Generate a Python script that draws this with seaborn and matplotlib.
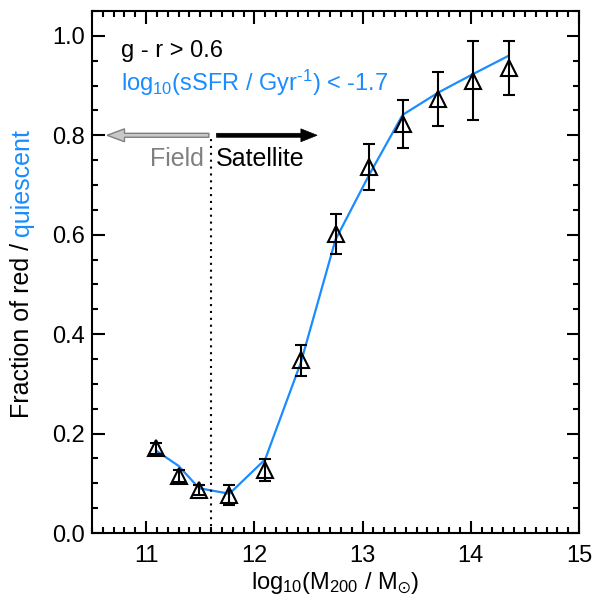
import matplotlib
matplotlib.use("Agg")
import matplotlib.pyplot as plt
import seaborn as sns
import pandas as pd
from matplotlib.patches import FancyArrow
from matplotlib.ticker import MultipleLocator

# Halo-mass bins (log10 M200 / Msun)
log_m200 = [11.09, 11.30, 11.49, 11.77, 12.10, 12.43, 12.75, 13.06, 13.37, 13.70, 14.02, 14.35]
# Red fraction (g - r > 0.6) with 1-sigma errors
red_frac = [0.170, 0.114, 0.087, 0.077, 0.126, 0.347, 0.602, 0.736, 0.822, 0.873, 0.910, 0.936]
red_err = [0.012, 0.012, 0.010, 0.020, 0.022, 0.032, 0.040, 0.047, 0.048, 0.054, 0.079, 0.054]
# Quiescent fraction (log10 sSFR < -1.7)
quiescent_frac = [0.166, 0.135, 0.090, 0.079, 0.148, 0.343, 0.590, 0.720, 0.841, 0.886, 0.923, 0.960]

field_limit = 11.6
x_ticks = [11, 12, 13, 14, 15]
y_ticks = [0.0, 0.2, 0.4, 0.6, 0.8, 1.0]

BLUE = "#1A8CFF"

sns.set_theme(style="ticks")
plt.rcParams["font.family"] = ["Liberation Sans", "DejaVu Sans"]
plt.rcParams["mathtext.default"] = "regular"
plt.rcParams["text.color"] = "black"
plt.rcParams["axes.labelcolor"] = "black"
plt.rcParams["xtick.color"] = "black"
plt.rcParams["ytick.color"] = "black"

df = pd.DataFrame({"m200": log_m200, "red": red_frac, "err": red_err, "q": quiescent_frac})

fig = plt.figure(figsize=(6.02, 5.98), dpi=100)
ax = fig.add_axes([92 / 602, 1 - 533 / 598, (579 - 92) / 602, (533 - 11) / 598])

sns.lineplot(data=df, x="m200", y="q", ax=ax, color=BLUE, lw=1.6,
             estimator=None, sort=False, zorder=2)
ax.errorbar(df["m200"], df["red"], yerr=df["err"], fmt="^", ms=11, mfc="none",
            mec="black", mew=1.5, ecolor="black", elinewidth=1.5, capsize=4,
            capthick=1.5, zorder=3)

# field / satellite divide
ax.plot([field_limit, field_limit], [0, 0.8], ls=(0, (1, 2.3)), color="black", lw=1.5)
ax.add_patch(FancyArrow(field_limit - 0.02, 0.8, -0.94, 0, width=0.008,
                        head_width=0.026, head_length=0.16,
                        length_includes_head=True, fc="#C8C8C8", ec="#808080", lw=1.0))
ax.add_patch(FancyArrow(field_limit + 0.05, 0.8, 0.93, 0, width=0.008,
                        head_width=0.026, head_length=0.15,
                        length_includes_head=True, fc="black", ec="black", lw=0.5))
ax.text(field_limit - 0.07, 0.752, "Field", color="#808080", fontsize=18,
        ha="right", va="center")
ax.text(field_limit + 0.04, 0.752, "Satellite", color="black", fontsize=18,
        ha="left", va="center")

ax.text(10.77, 0.97, "g - r > 0.6", color="black", fontsize=17, ha="left", va="center")
ax.text(10.77, 0.905, "log$_{10}$(sSFR / Gyr$^{\u2010 1}$) < -1.7", color=BLUE, fontsize=17,
        ha="left", va="center")

ax.set_xlim(10.5, 15)
ax.set_ylim(0, 1.05)
ax.set_xticks(x_ticks)
ax.set_yticks(y_ticks)
ax.set_yticklabels([f"{v:.1f}" for v in y_ticks])
ax.xaxis.set_minor_locator(MultipleLocator(0.1))
ax.yaxis.set_minor_locator(MultipleLocator(0.05))
ax.tick_params(which="both", direction="in", top=True, right=True, color="black",
               labelcolor="black", width=1.5)
ax.tick_params(which="major", length=9, labelsize=17)
ax.tick_params(axis="x", which="major", pad=9)
ax.tick_params(axis="y", which="major", pad=5)
ax.tick_params(which="minor", length=4.5)
for s in ax.spines.values():
    s.set_linewidth(1.5)
    s.set_color("black")
    s.set_visible(True)

ax.set_xlabel("log$_{10}$(M$_{200}$ / M$_{\\odot}$)", fontsize=17, labelpad=2, color="black")
ax.set_ylabel("")

# two-colour y label
t1 = fig.text(22 / 602, 1 - 418 / 598, "Fraction of red / ", rotation=90, fontsize=18,
              color="black", ha="center", va="bottom")
fig.canvas.draw()
bb = t1.get_window_extent()
y_top = fig.transFigure.inverted().transform((0, bb.y1))[1]
fig.text(22 / 602, y_top, "quiescent", rotation=90, fontsize=18, color=BLUE,
         ha="center", va="bottom")

fig.savefig("out.png", dpi=100)
